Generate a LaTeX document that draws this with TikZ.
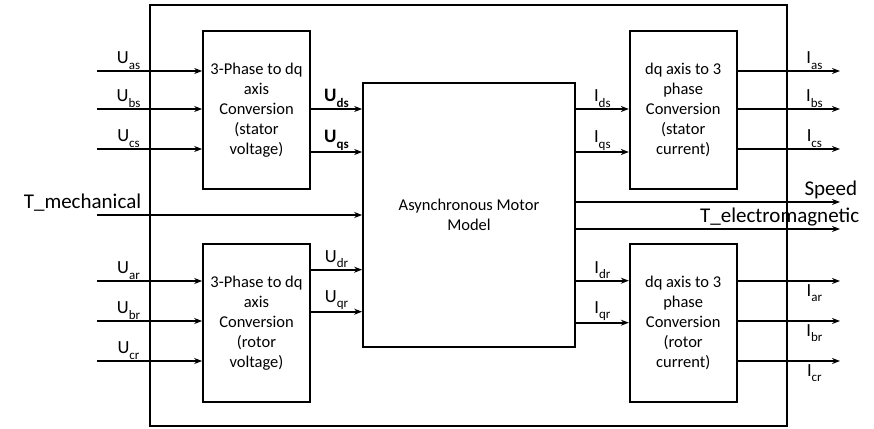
\documentclass[tikz,border=0pt]{standalone}
\usepackage{fontspec}
\setmainfont{Carlito}
\usetikzlibrary{arrows.meta,positioning,calc}
\newcommand{\lsub}[1]{\raisebox{-0.28em}{\fontsize{13}{13}\selectfont #1}}

\begin{document}
\begin{tikzpicture}[x=1pt,y=-1pt,>={Stealth[length=8pt,width=6pt]},line width=1.7pt,
  blk/.style={draw,minimum width=107pt,minimum height=158pt,align=center,
    font=\fontsize{16.5}{20}\selectfont,inner sep=2pt},
  lab/.style={font=\fontsize{18.5}{20}\selectfont,inner sep=1pt},
  blab/.style={font=\bfseries\fontsize{19}{20}\selectfont,inner sep=1pt},
  big/.style={font=\fontsize{21}{24}\selectfont,inner sep=0pt}]
\useasboundingbox (0,0) rectangle (874,428);
\node[draw,minimum width=637pt,minimum height=421pt,inner sep=0pt] (frame) at (468.5,215.5) {};
\node[blk] (sconv) at (256.5,110) {3-Phase to dq\\axis\\Conversion\\(stator\\voltage)};
\node[blk] (rconv) [below=53pt of sconv] {3-Phase to dq\\axis\\Conversion\\(rotor\\voltage)};
\node[blk] (scur)  [right=318pt of sconv] {dq axis to 3\\phase\\Conversion\\(stator\\current)};
\node[blk] (rcur)  [below=53pt of scur] {dq axis to 3\\phase\\Conversion\\(rotor\\current)};
\node[draw,minimum width=212pt,minimum height=264pt,align=center,
  font=\fontsize{16.5}{20}\selectfont] (motor) at (469,215) {Asynchronous Motor\\Model};
% three phase inputs
\foreach \y/\t [count=\i] in {71/as,109/bs,149/cs} {
  \coordinate (sin\i) at (97,\y);
  \draw[->] (sin\i) -- (sin\i -| sconv.west) node[lab,pos=0.3,above] (lsin\i) {U\lsub{\t}};
}
\foreach \y/\t [count=\i] in {281/ar,321/br,361/cr} {
  \coordinate (rin\i) at (97,\y);
  \draw[->] (rin\i) -- (rin\i -| rconv.west) node[lab,pos=0.3,above] (lrin\i) {U\lsub{\t}};
}
% three phase outputs
\foreach \y/\t [count=\i] in {71/as,109/bs,149/cs} {
  \coordinate (sout\i) at (840,\y);
  \draw[->] (sout\i -| scur.east) -- (sout\i) node[lab,pos=0.75,above] (lsout\i) {I\lsub{\t}};
}
\foreach \y/\t [count=\i] in {281/ar,321/br,361/cr} {
  \coordinate (rout\i) at (840,\y);
  \draw[->] (rout\i -| rcur.east) -- (rout\i) node[lab,pos=0.75,below,yshift=-2pt] (lrout\i) {I\lsub{\t}};
}
% dq signals
\coordinate (uds) at ([yshift=1pt]sconv.east);
\coordinate (uqs) at ([yshift=-42pt]sconv.east);
\coordinate (udr) at ([yshift=53pt]rconv.east);
\coordinate (uqr) at ([yshift=11pt]rconv.east);
\draw[->] (uds) -- (uds -| motor.west) node[blab,midway,above] (luds) {U\lsub{\bfseries ds}};
\draw[->] (uqs) -- (uqs -| motor.west) node[blab,midway,above] (luqs) {U\lsub{\bfseries qs}};
\draw[->] (udr) -- (udr -| motor.west) node[lab,midway,above] (ludr) {U\lsub{dr}};
\draw[->] (uqr) -- (uqr -| motor.west) node[lab,midway,above] (luqr) {U\lsub{qr}};
\coordinate (ids) at ([yshift=1pt]scur.west);
\coordinate (iqs) at ([yshift=-42pt]scur.west);
\coordinate (idr) at ([yshift=42pt]rcur.west);
\coordinate (iqr) at (rcur.west);
\draw[->] (ids -| motor.east) -- (ids) node[lab,midway,above] (lids) {I\lsub{ds}};
\draw[->] (iqs -| motor.east) -- (iqs) node[lab,midway,above] (liqs) {I\lsub{qs}};
\draw[->] (idr -| motor.east) -- (idr) node[lab,midway,above] (lidr) {I\lsub{dr}};
\draw[->] (iqr -| motor.east) -- (iqr) node[lab,midway,above] (liqr) {I\lsub{qr}};
% torque and speed
\coordinate (tm) at (97,215);
\coordinate (spd) at (840,202);
\coordinate (tem) at (840,229);
\draw[->] (tm) -- (motor.west);
\draw[->] (spd -| motor.east) -- (spd);
\draw[->] (tem -| motor.east) -- (tem);
\node[big,anchor=base east] (ltm) at (142,208) {T\_mechanical};
\node[big,anchor=base east] (lspd) at (858,195) {Speed};
\node[big,anchor=base east] (ltem) at (860,222) {T\_electromagnetic};
\end{tikzpicture}
\end{document}
